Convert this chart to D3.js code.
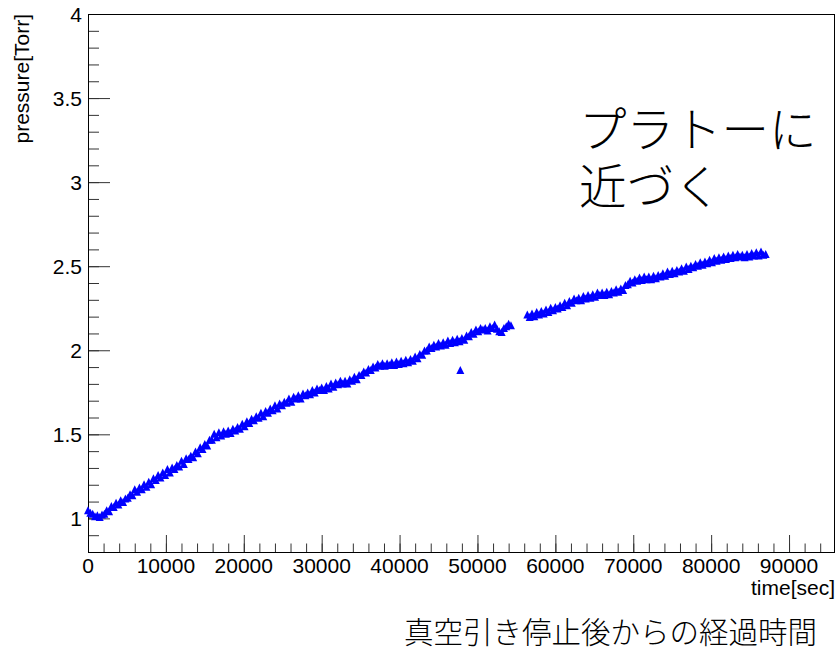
<!DOCTYPE html>
<html>
<head>
	<title>圧力の時間変化</title>
	<meta charset='utf-8'>
	<style>
		body {
			margin: 0;
			background: #fff;
		}

		.frame {
			fill: none;
			stroke: #000;
			stroke-width: 1px;
		}

		.tick-line {
			stroke: #333;
			stroke-width: 1px;
		}

		.tick-label, .axis-title {
			font-family: 'Liberation Sans', Arial, sans-serif;
			font-size: 21px;
			fill: #000;
		}

		.jp {
			font-family: 'Noto Sans CJK JP', sans-serif;
			font-weight: 300;
			fill: #000;
		}

		.point {
			fill: #0000ff;
		}
	</style>
</head>
<body>

<script src='https://cdn.jsdelivr.net/npm/d3@7'></script>
<script>
	'use strict';

	// время, сек (шаг 300)
	const times = [
		0, 300, 600, 900, 1200, 1500, 1800, 2100, 2400, 2700,
		3000, 3300, 3600, 3900, 4200, 4500, 4800, 5100, 5400, 5700,
		6000, 6300, 6600, 6900, 7200, 7500, 7800, 8100, 8400, 8700,
		9000, 9300, 9600, 9900, 10200, 10500, 10800, 11100, 11400, 11700,
		12000, 12300, 12600, 12900, 13200, 13500, 13800, 14100, 14400, 14700,
		15000, 15300, 15600, 15900, 16200, 16500, 16800, 17100, 17400, 17700,
		18000, 18300, 18600, 18900, 19200, 19500, 19800, 20100, 20400, 20700,
		21000, 21300, 21600, 21900, 22200, 22500, 22800, 23100, 23400, 23700,
		24000, 24300, 24600, 24900, 25200, 25500, 25800, 26100, 26400, 26700,
		27000, 27300, 27600, 27900, 28200, 28500, 28800, 29100, 29400, 29700,
		30000, 30300, 30600, 30900, 31200, 31500, 31800, 32100, 32400, 32700,
		33000, 33300, 33600, 33900, 34200, 34500, 34800, 35100, 35400, 35700,
		36000, 36300, 36600, 36900, 37200, 37500, 37800, 38100, 38400, 38700,
		39000, 39300, 39600, 39900, 40200, 40500, 40800, 41100, 41400, 41700,
		42000, 42300, 42600, 42900, 43200, 43500, 43800, 44100, 44400, 44700,
		45000, 45300, 45600, 45900, 46200, 46500, 46800, 47100, 47400, 47700,
		48000, 48300, 48600, 48900, 49200, 49500, 49800, 50100, 50400, 50700,
		51000, 51300, 51600, 51900, 52200, 52500, 52800, 53100, 53400, 53700,
		54000, 54300, 54600, 54900, 55200, 55500, 55800, 56100, 56400, 56700,
		57000, 57300, 57600, 57900, 58200, 58500, 58800, 59100, 59400, 59700,
		60000, 60300, 60600, 60900, 61200, 61500, 61800, 62100, 62400, 62700,
		63000, 63300, 63600, 63900, 64200, 64500, 64800, 65100, 65400, 65700,
		66000, 66300, 66600, 66900, 67200, 67500, 67800, 68100, 68400, 68700,
		69000, 69300, 69600, 69900, 70200, 70500, 70800, 71100, 71400, 71700,
		72000, 72300, 72600, 72900, 73200, 73500, 73800, 74100, 74400, 74700,
		75000, 75300, 75600, 75900, 76200, 76500, 76800, 77100, 77400, 77700,
		78000, 78300, 78600, 78900, 79200, 79500, 79800, 80100, 80400, 80700,
		81000, 81300, 81600, 81900, 82200, 82500, 82800, 83100, 83400, 83700,
		84000, 84300, 84600, 84900, 85200, 85500, 85800, 86100, 86400, 86700,
		87000
	];

	// давление, Torr (null — нет данных)
	const pressures = [
		1.045, 1.03, 1.025, 1.01, 1.015, 1.005, 1.02, 1.025, 1.045, 1.04,
		1.07, 1.065, 1.09, 1.08, 1.105, 1.095, 1.115, 1.12, 1.14, 1.135,
		1.17, 1.155, 1.18, 1.17, 1.20, 1.185, 1.215, 1.20, 1.235, 1.225,
		1.255, 1.24, 1.27, 1.255, 1.29, 1.27, 1.30, 1.29, 1.315, 1.305,
		1.34, 1.32, 1.355, 1.35, 1.37, 1.36, 1.395, 1.385, 1.42, 1.41,
		1.44, 1.43, 1.465, 1.465, 1.50, 1.48, 1.51, 1.49, 1.515, 1.50,
		1.52, 1.505, 1.53, 1.52, 1.54, 1.53, 1.56, 1.545, 1.575, 1.565,
		1.59, 1.58, 1.605, 1.595, 1.625, 1.605, 1.635, 1.625, 1.65, 1.64,
		1.67, 1.65, 1.68, 1.67, 1.69, 1.685, 1.71, 1.69, 1.72, 1.71,
		1.73, 1.71, 1.74, 1.73, 1.745, 1.735, 1.76, 1.745, 1.77, 1.76,
		1.775, 1.76, 1.785, 1.77, 1.80, 1.78, 1.805, 1.795, 1.815, 1.80,
		1.815, 1.80, 1.825, 1.815, 1.84, 1.825, 1.85, 1.85, 1.87, 1.865,
		1.885, 1.88, 1.90, 1.895, 1.915, 1.905, 1.92, 1.905, 1.92, 1.91,
		1.925, 1.91, 1.93, 1.915, 1.935, 1.92, 1.94, 1.925, 1.945, 1.935,
		1.96, 1.95, 1.975, 1.97, 1.995, 1.995, 2.02, 2.01, 2.03, 2.02,
		2.04, 2.025, 2.045, 2.03, 2.055, 2.04, 2.06, 2.045, 2.065, 2.05,
		2.07, 2.06, 2.085, 2.08, 2.105, 2.095, 2.12, 2.11, 2.13, 2.12,
		2.13, 2.115, 2.14, 2.13, 2.15, 2.125, 2.11, 2.105, 2.13, 2.14,
		2.155, 2.145, null, null, null, null, null, null, 2.21, 2.195,
		2.215, 2.20, 2.225, 2.21, 2.23, 2.215, 2.24, 2.225, 2.25, 2.235,
		2.255, 2.245, 2.265, 2.255, 2.28, 2.265, 2.29, 2.28, 2.305, 2.295,
		2.31, 2.295, 2.32, 2.305, 2.325, 2.31, 2.33, 2.315, 2.34, 2.325,
		2.34, 2.325, 2.345, 2.33, 2.35, 2.34, 2.36, 2.345, 2.365, 2.355,
		2.385, 2.39, 2.41, 2.40, 2.42, 2.41, 2.43, 2.415, 2.435, 2.42,
		2.435, 2.42, 2.44, 2.425, 2.445, 2.435, 2.455, 2.44, 2.465, 2.45,
		2.47, 2.455, 2.475, 2.465, 2.485, 2.47, 2.495, 2.48, 2.50, 2.49,
		2.51, 2.50, 2.52, 2.505, 2.525, 2.515, 2.535, 2.52, 2.545, 2.53,
		2.55, 2.535, 2.555, 2.54, 2.56, 2.545, 2.565, 2.55, 2.57, 2.555,
		2.565, 2.55, 2.57, 2.555, 2.575, 2.56, 2.58, 2.56, 2.585, 2.565,
		2.57
	];

	// отдельная выпавшая точка
	const outlierTimes = [47800];
	const outlierPressures = [1.88];

	const xTickValues = [0, 10000, 20000, 30000, 40000, 50000, 60000, 70000, 80000, 90000];
	const yTickLabels = ['1', '1.5', '2', '2.5', '3', '3.5', '4'];

	const xTitle = 'time[sec]';
	const yTitle = 'pressure[Torr]';
	const noteLines = ['プラトーに', '近づく'];
	const caption = '真空引き停止後からの経過時間';

	const W = 838;
	const H = 649;
	const frame = {left: 88, right: 835, top: 14, bottom: 552};

	const xScale = d3.scaleLinear().domain([0, 95900]).range([frame.left, frame.right]);
	const yScale = d3.scaleLinear().domain([0.8, 4]).range([frame.bottom, frame.top]);

	const svg = d3.select('body').append('svg')
		.attr('width', W)
		.attr('height', H);

	// оси через d3.axis, затем убираем domain
	const xMinor = d3.range(0, 95900, 2000);
	const yMinor = d3.range(9, 41).map(function(v) {return v / 10;});

	svg.append('g')
		.attr('transform', 'translate(0,' + frame.bottom + ')')
		.call(d3.axisTop(xScale).tickValues(xMinor).tickSize(8.5).tickFormat(''))
		.call(function(g) {g.select('.domain').remove();})
		.selectAll('line').attr('class', 'tick-line');

	svg.append('g')
		.attr('transform', 'translate(0,' + frame.bottom + ')')
		.call(d3.axisTop(xScale).tickValues(xTickValues).tickSize(17).tickFormat(''))
		.call(function(g) {g.select('.domain').remove();})
		.selectAll('line').attr('class', 'tick-line');

	svg.append('g')
		.attr('transform', 'translate(' + frame.left + ',0)')
		.call(d3.axisRight(yScale).tickValues(yMinor).tickSize(11).tickFormat(''))
		.call(function(g) {g.select('.domain').remove();})
		.selectAll('line').attr('class', 'tick-line');

	svg.append('g')
		.attr('transform', 'translate(' + frame.left + ',0)')
		.call(d3.axisRight(yScale).tickValues(yTickLabels.map(Number)).tickSize(22).tickFormat(''))
		.call(function(g) {g.select('.domain').remove();})
		.selectAll('line').attr('class', 'tick-line');

	svg.selectAll('.tick text').remove();

	// подписи тиков
	svg.append('g').selectAll('text')
		.data(xTickValues)
		.enter().append('text')
		.attr('class', 'tick-label')
		.attr('x', function(d) {return xScale(d);})
		.attr('y', 573)
		.attr('text-anchor', 'middle')
		.text(function(d) {return d;});

	svg.append('g').selectAll('text')
		.data(yTickLabels)
		.enter().append('text')
		.attr('class', 'tick-label')
		.attr('x', frame.left - 6)
		.attr('y', function(d) {return yScale(+d);})
		.attr('dy', '0.36em')
		.attr('text-anchor', 'end')
		.text(function(d) {return d;});

	svg.append('rect')
		.attr('class', 'frame')
		.attr('x', frame.left + 0.5)
		.attr('y', frame.top + 0.5)
		.attr('width', frame.right - frame.left - 1)
		.attr('height', frame.bottom - frame.top);

	// заголовки осей
	svg.append('text')
		.attr('class', 'axis-title')
		.attr('x', frame.right)
		.attr('y', 595)
		.attr('text-anchor', 'end')
		.text(xTitle);

	svg.append('text')
		.attr('class', 'axis-title')
		.attr('transform', 'translate(29,' + frame.top + ') rotate(-90)')
		.attr('text-anchor', 'end')
		.text(yTitle);

	// точки
	const tri = 'M0,-4.5L4,3.5L-4,3.5Z';
	const points = times.map(function(t, i) {return {t: t, p: pressures[i]};})
		.filter(function(d) {return d.p !== null;})
		.concat(outlierTimes.map(function(t, i) {return {t: t, p: outlierPressures[i]};}));

	svg.append('g').selectAll('path')
		.data(points)
		.enter().append('path')
		.attr('class', 'point')
		.attr('d', tri)
		.attr('transform', function(d) {
			return 'translate(' + xScale(d.t) + ',' + yScale(d.p) + ')';
		});

	// надписи на японском
	svg.append('g').selectAll('text')
		.data(noteLines)
		.enter().append('text')
		.attr('class', 'jp')
		.attr('x', 579)
		.attr('y', function(d, i) {return 147 + i * 57;})
		.style('font-size', '47.5px')
		.text(function(d) {return d;});

	svg.append('text')
		.attr('class', 'jp')
		.attr('x', 404)
		.attr('y', 643)
		.style('font-size', '29.5px')
		.text(caption);
</script>
</body>
</html>
